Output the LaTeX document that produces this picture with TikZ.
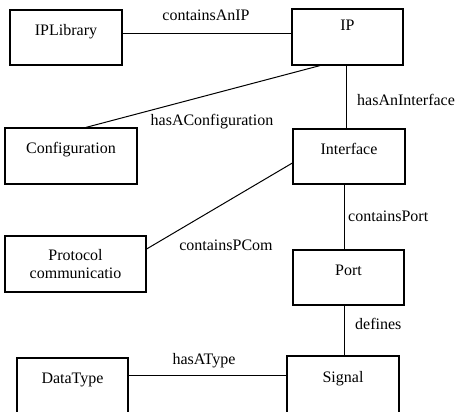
\documentclass[tikz,border=0pt]{standalone}
\usepackage{fontspec}
\setmainfont{Liberation Serif}
\begin{document}
\begin{tikzpicture}[x=1pt,y=1pt,
  boxbase/.style={draw, line width=1.2pt, inner sep=0pt, font=\fontsize{16}{17.5}\selectfont},
  box/.style={boxbase, text height=8pt, text depth=12pt},
  lbl/.style={font=\fontsize{16}{17.5}\selectfont, inner sep=0pt},
  conn/.style={line width=1pt}]
\useasboundingbox (0,0) rectangle (455,412);
\clip (0,0) rectangle (455,412);
% boxes
\node[box, minimum width=112pt, minimum height=55pt] (iplib) at (66,374.5) {IPLibrary};
\node[boxbase, text height=4pt, text depth=16.6pt, minimum width=111pt, minimum height=56pt] (ip) at (347.5,375) {IP};
\node[box, minimum width=132pt, minimum height=56pt] (config) at (71,256) {Configuration};
\node[box, minimum width=112pt, minimum height=55pt] (iface) at (349,255.5) {Interface};
\node[boxbase, align=center, minimum width=141pt, minimum height=56pt] (proto) at (75.5,148) {Protocol\\communicatio};
\node[box, minimum width=111pt, minimum height=55pt] (port) at (348.5,134.5) {Port};
\node[box, minimum width=111pt, minimum height=56pt] (dtype) at (72.5,26) {DataType};
\node[box, minimum width=112pt, minimum height=58pt] (signal) at (343,27) {Signal};
% connectors
\draw[conn] ([yshift=3.5pt]iplib.east) -- ([yshift=3.5pt]iplib.east -| ip.west);
\draw[conn] ([xshift=-27.5pt]ip.south) -- ([xshift=15pt]config.north);
\draw[conn] ([xshift=-1.5pt]ip.south) -- ([xshift=-1.5pt]ip.south |- iface.north);
\draw[conn] ([yshift=-6.5pt]iface.west) -- ([yshift=15pt]proto.east);
\draw[conn] ([xshift=-4.5pt]iface.south) -- ([xshift=-4.5pt]iface.south |- port.north);
\draw[conn] ([xshift=1pt]signal.north |- port.south) -- ([xshift=1pt]signal.north);
\draw[conn] ([yshift=10pt]dtype.east) -- ([yshift=10pt]dtype.east -| signal.west);
% labels
\node[lbl, anchor=base] (l1) at (206,391) {containsAnIP};
\node[lbl, anchor=base] (l2) at (212,286) {hasAConfiguration};
\node[lbl, anchor=base west] (l3) at (357,306.5) {hasAnInterface};
\node[lbl, anchor=base] (l4) at (226,161.3) {containsPCom};
\node[lbl, anchor=base west] (l5) at (348,190) {containsPort};
\node[lbl, anchor=base west] (l6) at (355,82) {defines};
\node[lbl, anchor=base] (l7) at (204,47.7) {hasAType};
\end{tikzpicture}
\end{document}
